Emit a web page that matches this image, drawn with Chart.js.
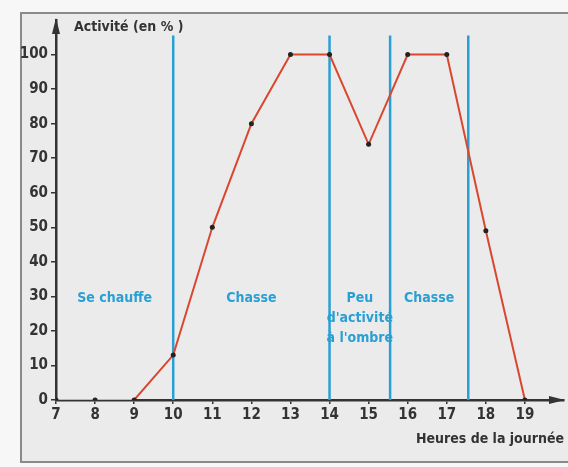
<!DOCTYPE html>
<html lang="fr">
<head>
<meta charset="utf-8">
<title>Activité (en %)</title>
<script src="https://cdn.jsdelivr.net/npm/chart.js@4/dist/chart.umd.min.js"></script>
<style>
  html, body { margin: 0; padding: 0; background: #f7f7f7; }
  #frame {
    position: absolute; left: 20px; top: 12px; width: 560px; height: 447px;
    background: #ebebeb; border: 2px solid #8a8a8a; border-right: none;
  }
  #wrap { position: absolute; left: 0; top: 0; width: 568px; height: 467px; }
</style>
</head>
<body>
<div id="frame"></div>
<div id="wrap"><canvas id="chart" width="568" height="467"></canvas></div>
<script>
// Heures de la journée et activité (en %)
const hours = [7, 8, 9, 10, 11, 12, 13, 14, 15, 16, 17, 18, 19];
const activity = [0, 0, 0, 13, 50, 80, 100, 100, 74, 100, 100, 49, 0];
const yTicks = [0, 10, 20, 30, 40, 50, 60, 70, 80, 90, 100];

// limites des phases (lignes bleues) et leurs noms
const boundaries = [10, 14, 15.55, 17.55];
const zoneStarts = [7, 10, 14, 15.55];
const zoneLabels = [['Se chauffe'], ['Chasse'], ['Peu', "d'activité", "à l'ombre"], ['Chasse']];

const RED = '#d9472f';
const BLUE = '#2a9fd4';
const INK = '#333333';
const FONT = "'DejaVu Sans Condensed', 'Liberation Sans Narrow', 'DejaVu Sans', sans-serif";

const datasets = [{
    data: hours.map((h, i) => ({ x: h, y: activity[i] })),
    borderColor: RED,
    borderWidth: 2,
    pointRadius: 2.5,
    pointBackgroundColor: '#222',
    pointBorderWidth: 0,
    tension: 0,
    segment: {
        borderColor: c => c.p1.parsed.x <= 9 ? '#e0b85a' : RED
    }
}];
boundaries.forEach(b => {
    datasets.push({
        data: [{ x: b, y: 0 }, { x: b, y: 105.5 }],
        borderColor: BLUE,
        borderWidth: 2.5,
        pointRadius: 0,
        tension: 0
    });
});

// textes et flèches des axes
const decorations = {
    id: 'decorations',
    afterDatasetsDraw(chart) {
        const { ctx, chartArea, scales: { x, y } } = chart;
        ctx.save();
        // flèches
        ctx.fillStyle = INK;
        const x0 = x.getPixelForValue(7);
        const y0 = y.getPixelForValue(0);
        ctx.beginPath();
        ctx.moveTo(x0, chartArea.top - 2);
        ctx.lineTo(x0 - 4, chartArea.top + 14);
        ctx.lineTo(x0 + 4, chartArea.top + 14);
        ctx.closePath();
        ctx.fill();
        ctx.beginPath();
        ctx.moveTo(chartArea.right + 1, y0);
        ctx.lineTo(chartArea.right - 15, y0 - 4);
        ctx.lineTo(chartArea.right - 15, y0 + 4);
        ctx.closePath();
        ctx.fill();

        // titre de l'axe vertical
        ctx.font = 'bold 14px ' + FONT;
        ctx.textAlign = 'left';
        ctx.textBaseline = 'middle';
        ctx.fillText('Activité (en % )', x0 + 18, chartArea.top + 7);

        // noms des phases
        ctx.fillStyle = BLUE;
        ctx.textAlign = 'center';
        ctx.font = 'bold 14px ' + FONT;
        zoneLabels.forEach((lines, i) => {
            const end = boundaries[i];
            const cx = x.getPixelForValue((zoneStarts[i] + end) / 2);
            const top = y.getPixelForValue(29.5);
            lines.forEach((t, k) => ctx.fillText(t, cx, top + k * 20));
        });
        ctx.restore();
    }
};

new Chart(document.getElementById('chart'), {
    type: 'line',
    data: { datasets },
    options: {
        responsive: false,
        animation: false,
        layout: { padding: { left: 0, right: 3, top: 20, bottom: 0 } },
        plugins: { legend: { display: false }, tooltip: { enabled: false } },
        scales: {
            x: {
                type: 'linear',
                min: 7,
                max: 20,
                afterBuildTicks: s => { s.ticks = hours.map(v => ({ value: v })); },
                afterFit: s => { s.height = 67; },
                grid: { drawOnChartArea: false, drawTicks: true, tickLength: 4, color: INK, lineWidth: 1.5 },
                border: { color: INK, width: 2.5 },
                ticks: { color: INK, font: { family: FONT, size: 15, weight: 'bold' }, padding: 2, maxRotation: 0 },
                title: {
                    display: true,
                    text: 'Heures de la journée',
                    align: 'end',
                    color: INK,
                    font: { family: FONT, size: 14, weight: 'bold' },
                    padding: { top: 0, bottom: 19 }
                }
            },
            y: {
                min: 0,
                max: 110,
                afterBuildTicks: s => { s.ticks = yTicks.map(v => ({ value: v })); },
                afterFit: s => { s.width = 56; },
                grid: { drawOnChartArea: false, drawTicks: true, tickLength: 5, color: INK, lineWidth: 1.5 },
                border: { color: INK, width: 2.5 },
                ticks: { color: INK, font: { family: FONT, size: 15, weight: 'bold' }, padding: 3 }
            }
        }
    },
    plugins: [decorations]
});
</script>
</body>
</html>
